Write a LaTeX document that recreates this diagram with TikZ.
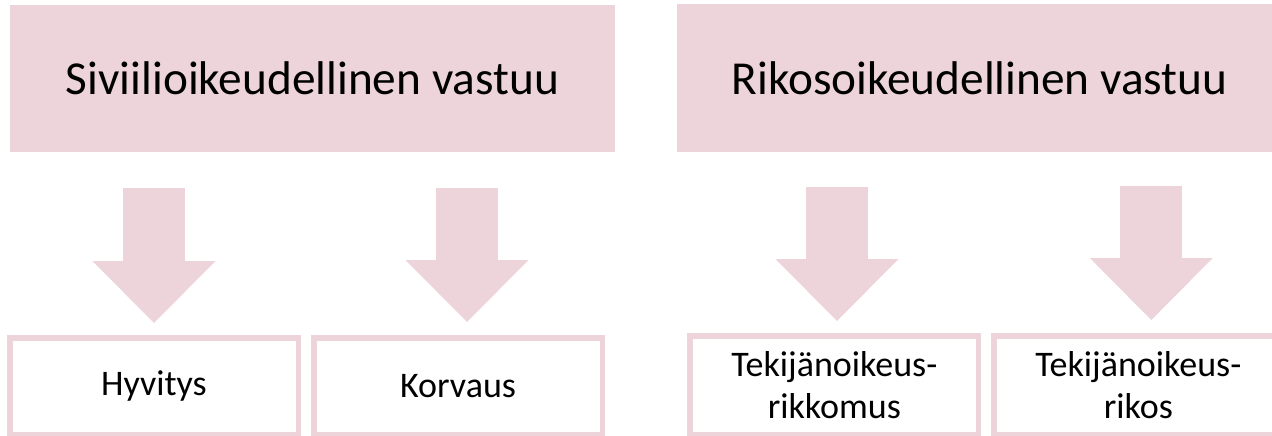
\documentclass[tikz,border=0pt]{standalone}
\usepackage{fontspec}
\setmainfont{Carlito}
\usetikzlibrary{positioning,calc,arrows.meta}
\definecolor{palepink}{RGB}{237,212,218}

\begin{document}
\begin{tikzpicture}[x=1pt, y=-1pt, node distance = 304pt, on grid,
	head/.style={rectangle, fill=palepink, minimum width=605pt, minimum height=147pt, inner sep=0pt, font=\fontsize{47.3}{56}\selectfont},
	leaf/.style={rectangle, fill=white, draw=palepink, line width=5.5pt, minimum width=288.5pt, minimum height=96.5pt, inner sep=0pt, align=center, font=\fontsize{36}{42}\selectfont},
	bigarrow/.style={draw=palepink, line width=62pt, -{Triangle[length=62pt, width=123pt, line width=0pt]}}]
	\useasboundingbox (0,0) rectangle (1272,436);
	% the two kinds of liability
	\node [head] (civ) at (312.5,78.5) {Siviilioikeudellinen vastuu};
	\node [head, minimum height=148pt] (crim) at (979.5,78) {Rikosoikeudellinen vastuu};
	% consequences
	\node [leaf] (hyv) at (154,386) {Hyvitys};
	\node [leaf] (korv) [right =of hyv] {Korvaus};
	\node [leaf, minimum height=98.5pt] (rikk) at (834.3,385) {Tekijänoikeus-\\rikkomus};
	\node [leaf, minimum height=98.5pt] (rikos) [right =of rikk] {Tekijänoikeus-\\rikos};
	% block arrows
	\draw [bigarrow] ($(hyv.north)+(0,-147)$) -- ($(hyv.north)+(0,-12)$);
	\draw [bigarrow] ($(korv.north)+(9,-147)$) -- ($(korv.north)+(9,-13)$);
	\draw [bigarrow] ($(rikk.north)+(2.7,-146)$) -- ($(rikk.north)+(2.7,-12)$);
	\draw [bigarrow] ($(rikos.north)+(13,-147)$) -- ($(rikos.north)+(13,-13)$);
\end{tikzpicture}
\end{document}
